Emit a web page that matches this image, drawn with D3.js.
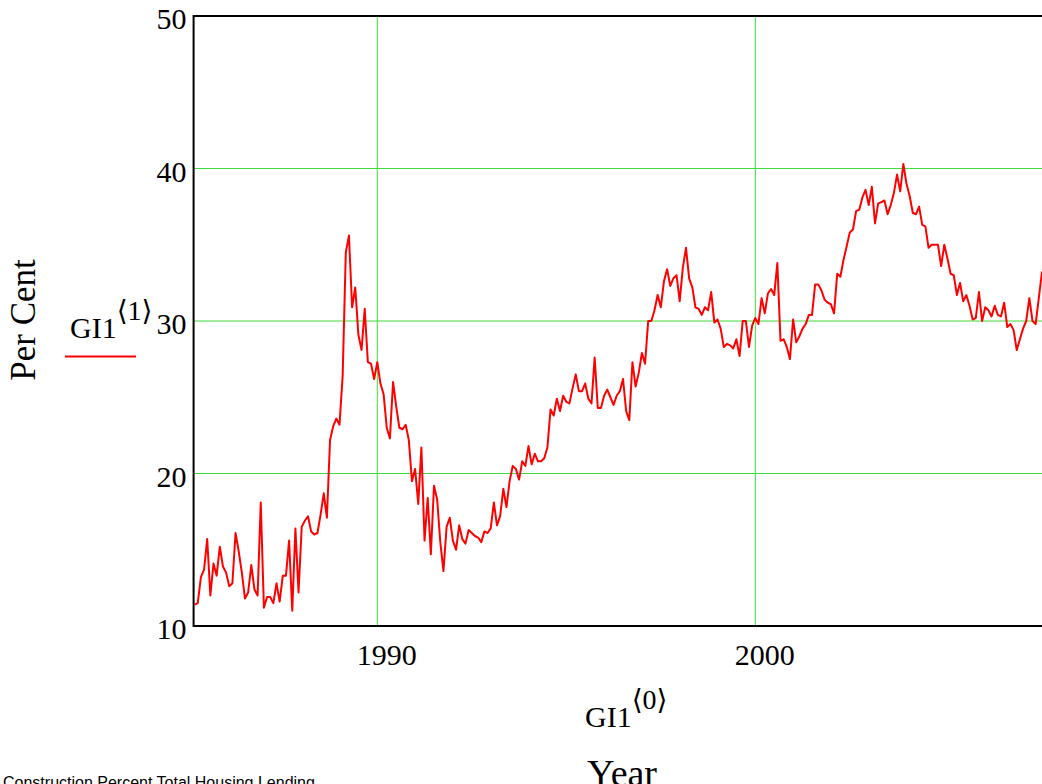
<!DOCTYPE html>
<html>
<head>
<meta charset="utf-8">
<script src="https://cdn.jsdelivr.net/npm/d3@7"></script>
<style>
  html, body { margin: 0; padding: 0; background: #fff; overflow: hidden; }
  svg { display: block; }
  .serif { font-family: "Liberation Serif", "Times New Roman", "DejaVu Serif", serif; fill: #000; }
</style>
</head>
<body>
<svg id="chart" width="1042" height="784"></svg>
<script>
// Monthly share of construction loans in total housing lending, from March 1985
const startYear = 1985;
const startMonth = 3;
const values = [
  11.4, 11.5, 13.2, 13.7, 15.7, 12.0, 14.1, 13.3, 15.2, 13.9,
  13.5, 12.6, 12.8, 16.1, 14.9, 13.5, 11.8, 12.2, 14.0, 12.4,
  12.0, 18.1, 11.2, 11.9, 11.9, 11.5, 12.8, 11.6, 13.3, 13.3,
  15.6, 11.0, 16.4, 12.2, 16.5, 16.9, 17.2, 16.2, 16.0, 16.1,
  17.3, 18.7, 17.1, 22.2, 23.1, 23.6, 23.2, 26.4, 34.5, 35.6,
  30.9, 32.2, 29.1, 28.1, 30.8, 27.3, 27.2, 26.2, 27.3, 25.9,
  25.2, 23.0, 22.3, 26.0, 24.4, 23.0, 22.9, 23.2, 22.2, 19.5,
  20.3, 18.0, 21.7, 15.6, 18.4, 14.7, 19.2, 18.3, 15.5, 13.6,
  16.5, 17.1, 15.6, 15.0, 16.6, 15.7, 15.4, 16.3, 16.1, 15.9,
  15.8, 15.5, 16.2, 16.1, 16.4, 18.1, 16.6, 17.2, 19.0, 17.8,
  19.5, 20.5, 20.3, 19.6, 20.8, 20.5, 21.8, 20.6, 21.3, 20.8,
  20.8, 21.0, 21.7, 24.2, 23.8, 24.9, 24.1, 25.1, 24.7, 24.6,
  25.6, 26.5, 25.4, 25.4, 25.9, 24.9, 24.6, 27.6, 24.3, 24.3,
  25.1, 25.5, 25.0, 24.5, 25.1, 25.4, 26.2, 24.1, 23.5, 27.3,
  25.7, 26.6, 27.9, 27.2, 30.0, 30.0, 30.7, 31.7, 30.9, 32.6,
  33.4, 32.3, 32.8, 33.0, 31.3, 33.5, 34.8, 32.8, 32.2, 30.9,
  30.8, 30.4, 30.9, 30.7, 31.9, 29.9, 30.1, 29.5, 28.3, 28.5,
  28.4, 28.2, 28.8, 27.7, 30.0, 30.0, 28.3, 29.7, 30.2, 29.8,
  31.5, 30.5, 31.8, 32.1, 31.7, 33.8, 28.7, 28.8, 28.3, 27.5,
  30.1, 28.6, 29.0, 29.5, 29.8, 30.4, 30.4, 32.4, 32.4, 32.0,
  31.4, 31.2, 31.1, 30.5, 33.1, 32.9, 34.0, 34.9, 35.8, 36.0,
  37.2, 37.3, 38.1, 38.6, 37.6, 38.8, 36.4, 37.7, 37.8, 37.9,
  37.0, 37.6, 38.4, 39.6, 38.5, 40.3, 39.0, 38.2, 37.1, 37.0,
  37.5, 36.3, 36.2, 34.8, 35.0, 35.0, 35.0, 33.6, 35.0, 34.1,
  33.1, 33.0, 31.7, 32.5, 31.3, 31.7, 31.0, 30.1, 30.2, 31.9,
  30.0, 30.9, 30.7, 30.3, 31.0, 30.4, 30.3, 31.2, 29.6, 29.8,
  29.4, 28.1, 28.8, 29.5, 30.0, 31.5, 30.0, 29.8, 31.5, 33.2,
  32.3
];
const xTicks = [1990, 2000];
const yTicks = [10, 20, 30, 40, 50];
const xDomain = [1985.14, 2007.8];
const yDomain = [10, 50];

const dates = values.map((v, i) => startYear + (startMonth - 1 + i) / 12);
const series = dates.map((d, i) => ({ year: d, value: values[i] }));

const svg = d3.select("#chart");
const W = 1042, H = 784;
svg.append("rect").attr("width", W).attr("height", H).attr("fill", "#fff");

const x = d3.scaleLinear().domain([1990, 2000]).range([377.3, 755.3]);
const y = d3.scaleLinear().domain(yDomain).range([626, 16]);

const plotL = x(xDomain[0]), plotR = x(xDomain[1]);
const plotT = y(yDomain[1]), plotB = y(yDomain[0]);

svg.append("clipPath").attr("id", "plot-clip")
  .append("rect").attr("x", plotL).attr("y", plotT)
  .attr("width", plotR - plotL).attr("height", plotB - plotT);

// grid lines
const grid = svg.append("g");
grid.selectAll("line.h").data(yTicks.filter(t => t > yDomain[0] && t < yDomain[1]))
  .join("line").attr("class", "h")
  .attr("x1", plotL).attr("x2", plotR)
  .attr("y1", d => y(d)).attr("y2", d => y(d))
  .attr("stroke", "#3cdc3c").attr("stroke-width", 1);
grid.selectAll("line.v").data(xTicks)
  .join("line").attr("class", "v")
  .attr("x1", d => x(d)).attr("x2", d => x(d))
  .attr("y1", plotT).attr("y2", plotB)
  .attr("stroke", "#3cdc3c").attr("stroke-width", 1);

// data line
const line = d3.line().x(d => x(d.year)).y(d => y(d.value));
svg.append("path").datum(series)
  .attr("clip-path", "url(#plot-clip)")
  .attr("d", line)
  .attr("fill", "none")
  .attr("stroke", "#ff0000")
  .attr("stroke-width", 2)
  .attr("stroke-linejoin", "round");

// frame: left, bottom, top
svg.append("path")
  .attr("d", `M${plotR},${plotT}H${plotL}V${plotB}H${plotR}`)
  .attr("stroke", "#000").attr("stroke-width", 2).attr("fill", "none");

// y axis labels
const yAxis = d3.axisLeft(y).tickValues(yTicks).tickSize(0).tickPadding(7);
const gy = svg.append("g").attr("transform", `translate(${plotL},0)`).call(yAxis);
gy.select(".domain").remove();
gy.selectAll("text")
  .attr("class", "serif")
  .attr("font-size", 30)
  .attr("dy", "0.42em")
  .attr("fill", "#000");

// x axis labels
const xAxis = d3.axisBottom(x).tickValues(xTicks).tickFormat(d3.format("d")).tickSize(0).tickPadding(18);
const gx = svg.append("g").attr("transform", `translate(0,${plotB})`).call(xAxis);
gx.select(".domain").remove();
gx.selectAll("text")
  .attr("class", "serif")
  .attr("font-size", 30)
  .attr("dx", 9)
  .attr("fill", "#000");

// axis titles
svg.append("text").attr("class", "serif")
  .attr("font-size", 35)
  .attr("text-anchor", "middle")
  .attr("transform", "translate(35,320) rotate(-90)")
  .text("Per Cent");

function indexed(g, base, idx, px, py) {
  const t = g.append("text").attr("class", "serif").attr("x", px).attr("y", py).attr("font-size", 30);
  t.append("tspan").text(base);
  t.append("tspan").attr("dy", -18).attr("font-size", 28)
    .text("\u27E8" + idx + "\u27E9");
}

// legend
const lg = svg.append("g");
indexed(lg, "GI1", 1, 70, 338);
lg.append("line").attr("x1", 65).attr("x2", 136).attr("y1", 356.5).attr("y2", 356.5)
  .attr("stroke", "#ff0000").attr("stroke-width", 2);

indexed(svg, "GI1", 0, 585, 726.5);

svg.append("text").attr("class", "serif")
  .attr("font-size", 38)
  .attr("x", 587).attr("y", 786)
  .text("Year");

svg.append("text")
  .attr("x", 3).attr("y", 788)
  .attr("font-family", "'Liberation Sans', Arial, sans-serif")
  .attr("font-size", 16)
  .text("Construction Percent Total Housing Lending");
</script>
</body>
</html>
